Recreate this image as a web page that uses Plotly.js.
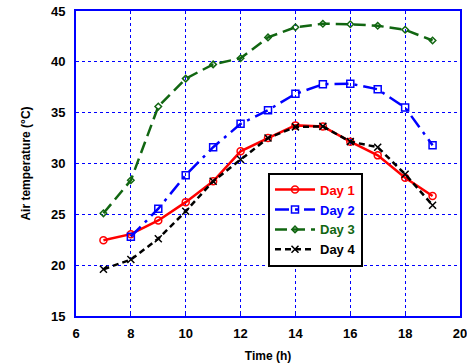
<!DOCTYPE html>
<html><head><meta charset="utf-8">
<script src="https://cdn.plot.ly/plotly-3.0.1.min.js"></script>
<style>body{margin:0;background:#fff}#c{width:467px;height:363px}</style>
</head><body><div id="c"></div>
<script>
const hours = [7,8,9,10,11,12,13,14,15,16,17,18,19];
const hoursDay2 = [8,9,10,11,12,13,14,15,16,17,18,19];
const day1 = [22.45,23.05,24.4,26.2,28.25,31.2,32.5,33.75,33.65,32.15,30.8,28.6,26.8];
const day2 = [22.8,25.55,28.85,31.6,33.9,35.25,36.85,37.8,37.85,37.3,35.5,31.8];
const day3 = [25.1,28.35,35.6,38.35,39.75,40.35,42.4,43.4,43.75,43.7,43.55,43.15,42.1];
const day4 = [19.6,20.55,22.6,25.3,28.25,30.4,32.5,33.6,33.65,32.15,31.6,28.95,25.9];
const seriesNames = ['Day 1','Day 2','Day 3','Day 4'];
const xTicks = [6,8,10,12,14,16,18,20];
const yTicks = [15,20,25,30,35,40,45];

const fnt = {family:'Liberation Sans, Arial, sans-serif', size:13, color:'#000', weight:'bold'};
const tfnt = {family:'Liberation Sans, Arial, sans-serif', size:12, color:'#000', weight:'bold'};
const traces = [
 {x:hours, y:day1, name:'<span style="color:#ff0000">'+seriesNames[0]+'</span>', mode:'lines+markers',
  line:{color:'#ff0000', width:2.5}, marker:{symbol:'circle-open', size:7, color:'#ff0000', line:{width:1.5}}},
 {x:hoursDay2, y:day2, name:'<span style="color:#0000ff">'+seriesNames[1]+'</span>', mode:'lines+markers',
  line:{color:'#0000ff', width:2.5, dash:'14px,6px,3px,6px'}, marker:{symbol:'square-open', size:7, color:'#0000ff', line:{width:1.5}}},
 {x:hours, y:day3, name:'<span style="color:#116611">'+seriesNames[2]+'</span>', mode:'lines+markers',
  line:{color:'#116611', width:2.5, dash:'12px,6px'}, marker:{symbol:'diamond-open', size:5, color:'#116611', line:{width:1.5}}},
 {x:hours, y:day4, name:'<span style="color:#000000">'+seriesNames[3]+'</span>', mode:'lines+markers',
  line:{color:'#000000', width:2.5, dash:'6px,4px'}, marker:{symbol:'x-thin-open', size:7, color:'#000000', line:{width:1.5}}}
];
const layout = {
 width:467, height:363,
 margin:{l:76, r:7, t:11, b:47},
 paper_bgcolor:'#fff', plot_bgcolor:'#fff',
 font:fnt,
 showlegend:true,
 legend:{x:0.50, y:0.47, xanchor:'left', yanchor:'top', bgcolor:'#fff', bordercolor:'#000', borderwidth:2,
   font:{family:'Liberation Sans, Arial, sans-serif', size:13, weight:'bold'}, tracegroupgap:0, itemwidth:40},
 xaxis:{range:[6,20], tickvals:xTicks, ticktext:xTicks.map(String), showgrid:true,
   gridcolor:'#0000ff', griddash:'dot', gridwidth:1, showline:true, linecolor:'#0000ff', linewidth:2, mirror:true,
   zeroline:false, ticks:'inside', ticklen:3, tickcolor:'#0000ff', tickfont:fnt, ticklabelstandoff:4,
   ticklabeloverflow:'allow', automargin:false,
   title:{text:'Time (h)', font:tfnt, standoff:18}},
 yaxis:{range:[15,45], tickvals:yTicks, ticktext:yTicks.map(String), showgrid:true,
   gridcolor:'#0000ff', griddash:'dot', gridwidth:1, showline:true, linecolor:'#0000ff', linewidth:2, mirror:true,
   zeroline:false, ticks:'inside', ticklen:3, tickcolor:'#0000ff', tickfont:fnt, ticklabelstandoff:6,
   ticklabeloverflow:'allow', automargin:false,
   title:{text:'Air temperature (°C)', font:tfnt, standoff:18}}
};
Plotly.newPlot('c', traces, layout, {displayModeBar:false, staticPlot:true});
</script></body></html>
